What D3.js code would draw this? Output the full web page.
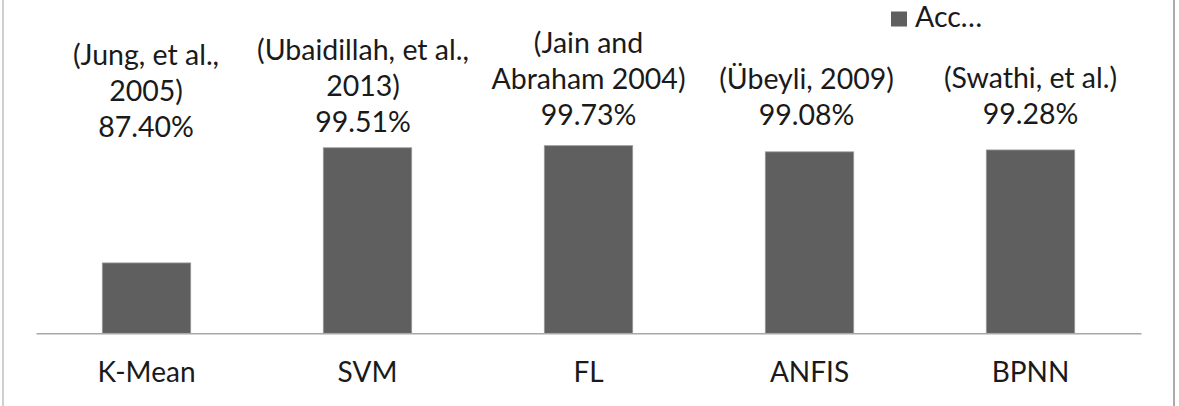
<!DOCTYPE html>
<html>
<head>
<meta charset="utf-8">
<script src="https://cdn.jsdelivr.net/npm/d3@7"></script>
<style>
  html, body { margin: 0; padding: 0; background: #fff; }
  svg { display: block; }
  text { font-family: Lato, "Open Sans", sans-serif; fill: #1a1a1a; }
</style>
</head>
<body>
<svg id="chart" width="1179" height="406"></svg>
<script>
// ---- data ----
const categories = ["K-Mean", "SVM", "FL", "ANFIS", "BPNN"];
const accuracy = [87.40, 99.51, 99.73, 99.08, 99.28];
const citations = [
  ["(Jung, et al.,", "2005)"],
  ["(Ubaidillah, et al.,", "2013)"],
  ["(Jain and", "Abraham 2004)"],
  ["(Übeyli, 2009)"],
  ["(Swathi, et al.)"]
];
const seriesName = "Acc…";
const yDomain = [80, 100];

// ---- layout (not data) ----
const labelBaseline = [137, 131.5, 125, 125, 124]; // manually placed data labels (px)
const labelShift = [-0.5, -4.5, 0, -3, 0];
const fontSize = 28.5;
const catFontSize = 28;
const lineH = 36;

const svg = d3.select("#chart");
const plot = { left: 36, right: 1141, bottom: 333.3 };

const x = d3.scaleBand().domain(categories).range([plot.left, plot.right]).paddingInner(0.6).paddingOuter(0.3);
const y = d3.scaleLinear().domain(yDomain).range([plot.bottom, plot.bottom - 190.2]);

// outer frame lines
svg.append("rect").attr("x", 2).attr("y", 0).attr("width", 2).attr("height", 406).attr("fill", "#cfcfcf");
svg.append("rect").attr("x", 1173).attr("y", 0).attr("width", 2).attr("height", 406).attr("fill", "#ababab");

// bars
svg.selectAll("rect.bar").data(categories).enter().append("rect")
  .attr("class", "bar")
  .attr("x", d => x(d))
  .attr("width", x.bandwidth())
  .attr("y", (d, i) => y(accuracy[i]))
  .attr("height", (d, i) => plot.bottom - y(accuracy[i]))
  .attr("fill", "#5f5f5f")
  .attr("stroke", "#9a9a9a")
  .attr("stroke-width", 0.8);

// baseline axis
const xAxis = d3.axisBottom(x).tickSize(0).tickPadding(0);
const ax = svg.append("g").attr("transform", `translate(0,${plot.bottom})`).call(xAxis);
ax.select(".domain").attr("stroke", "#a8a8a8").attr("stroke-width", 1.5);
ax.selectAll(".tick text")
  .attr("y", 48.5)
  .attr("dy", null)
  .style("font-size", catFontSize + "px")
  .style("font-family", "Lato, sans-serif")
  .attr("fill", "#1a1a1a");

// data labels
categories.forEach((c, i) => {
  const lines = citations[i].concat([accuracy[i].toFixed(2) + "%"]);
  const cx = x(c) + x.bandwidth() / 2 + labelShift[i];
  const t = svg.append("text")
    .attr("text-anchor", "middle")
    .style("font-size", fontSize + "px");
  lines.forEach((ln, j) => {
    t.append("tspan")
      .attr("x", cx)
      .attr("y", labelBaseline[i] - (lines.length - 1 - j) * lineH)
      .text(ln);
  });
});

// legend
const lg = svg.append("g");
lg.append("rect").attr("x", 891).attr("y", 11.5).attr("width", 16).attr("height", 15).attr("fill", "#5f5f5f");
lg.append("text").attr("x", 915).attr("y", 26.5).style("font-size", fontSize + "px").text(seriesName);
</script>
</body>
</html>
